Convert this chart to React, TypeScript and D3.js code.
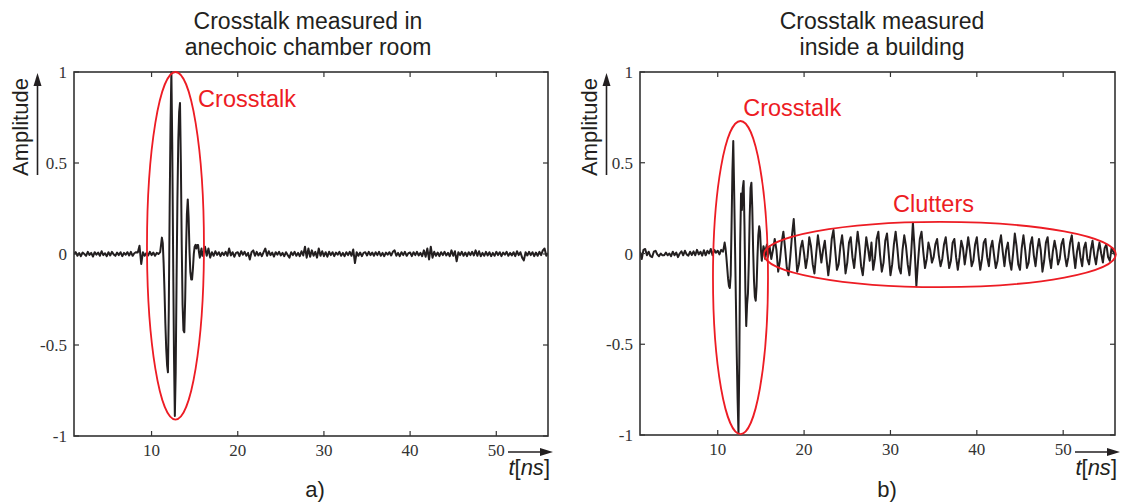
import React from 'react';
import * as d3 from 'd3';

// ---------- axis definitions ----------
const T_DOMAIN: [number, number] = [1, 56];
const A_DOMAIN: [number, number] = [-1, 1];
const xTicks = [10, 20, 30, 40, 50];
const yTicks = [-1, -0.5, 0, 0.5, 1];
const yTickLabels = ['-1', '-0.5', '0', '0.5', '1'];

// ---------- panel a) anechoic chamber ----------
// 1.0 – 10.8 ns, step 0.2
const leftPre = [
  0.0, 0.01, -0.01, 0.005, -0.012, 0.008, 0.0, -0.01, 0.012, -0.005,
  0.006, -0.014, 0.01, -0.004, 0.008, -0.01, 0.015, -0.006, 0.004, -0.012,
  0.01, -0.008, 0.012, -0.002, -0.01, 0.008, -0.006, 0.01, -0.012, 0.006,
  -0.004, 0.01, -0.008, 0.012, -0.01, 0.004, 0.01, 0.008, 0.045, -0.055,
  0.01, -0.01, 0.005, -0.008, 0.012, -0.006, 0.008, -0.01, 0.006, 0.0,
];
// 11.0 – 15.9 ns, step 0.1
const leftBurst = [
  0.01, 0.05, 0.09, 0.06, -0.05, -0.2, -0.38, -0.52, -0.61, -0.65,
  -0.3, 0.25, 0.72, 1.0, 0.6, 0.0, -0.55, -0.89, -0.65, -0.15,
  0.3, 0.62, 0.78, 0.83, 0.5, 0.05, -0.28, -0.42, -0.43, -0.25,
  0.02, 0.22, 0.3, 0.2, 0.02, -0.1, -0.14, -0.14, -0.08, 0.0,
  0.04, 0.05, 0.03, 0.05, 0.05, 0.01, -0.02, 0.01, 0.03, -0.01,
];
// 16.0 – 56.0 ns, step 0.2
const leftPost = [
  0.0, 0.04, -0.01, 0.03, -0.02, 0.01, -0.01, 0.015, -0.005, 0.01,
  -0.012, 0.008, -0.006, 0.012, -0.01, 0.03, -0.008, 0.01, -0.015, 0.006,
  0.01, -0.012, 0.015, -0.004, 0.012, -0.01, 0.006, -0.03, 0.01, 0.02,
  -0.01, 0.012, -0.008, 0.006, -0.012, 0.01, 0.03, -0.01, 0.015, -0.006,
  0.008, -0.014, 0.01, -0.004, 0.012, -0.008, 0.006, -0.012, 0.01, -0.006,
  -0.02, 0.01, -0.006, 0.012, -0.01, 0.006, -0.012, 0.015, -0.008, 0.04,
  -0.02, 0.03, -0.015, 0.02, -0.01, 0.012, -0.02, 0.03, -0.01, 0.015,
  -0.012, 0.01, -0.015, 0.012, -0.006, 0.01, -0.012, 0.008, -0.004, 0.012,
  -0.01, 0.006, -0.012, 0.01, -0.006, 0.012, -0.01, 0.025, -0.05, 0.01,
  -0.01, 0.008, -0.012, 0.006, 0.01, -0.008, 0.012, -0.006, 0.008, -0.01,
  0.01, -0.006, 0.012, -0.01, 0.006, -0.012, 0.008, -0.004, 0.01, -0.008,
  0.012, 0.02, -0.01, 0.006, -0.012, 0.01, -0.006, 0.012, -0.01, 0.004,
  0.008, -0.012, 0.01, -0.006, 0.012, -0.008, 0.006, -0.012, 0.02, -0.015,
  0.03, -0.03, 0.04, -0.02, 0.012, -0.01, 0.008, -0.012, 0.01, -0.006,
  0.012, -0.008, 0.006, -0.012, 0.02, -0.01, 0.015, -0.04, 0.01, -0.006,
  0.012, -0.01, 0.008, -0.012, 0.01, -0.006, 0.012, -0.008, 0.02, -0.01,
  0.015, -0.012, 0.006, -0.01, 0.012, -0.008, 0.01, -0.012, 0.006, -0.01,
  0.012, -0.006, 0.01, -0.012, 0.008, -0.004, 0.012, -0.01, 0.006, -0.008,
  0.01, -0.012, 0.015, -0.006, 0.01, -0.02, -0.035, 0.01, -0.008, 0.012,
  -0.006, 0.01, -0.012, 0.008, -0.01, 0.012, -0.006, 0.02, 0.03, -0.01,
  0.005,
];

// ---------- panel b) inside a building ----------
// 1.0 – 10.4 ns, step 0.2
const rightPre = [
  0.01, -0.03, 0.02, 0.025, -0.01, 0.01, -0.015, -0.02, 0.01, 0.015,
  -0.005, -0.015, 0.0, -0.01, -0.01, 0.005, -0.01, 0.0, -0.015, 0.01,
  -0.01, 0.005, -0.02, 0.0, 0.012, -0.01, 0.015, -0.005, -0.012, 0.01,
  -0.008, 0.012, -0.01, 0.02, -0.005, 0.01, -0.012, 0.018, -0.01, 0.015,
  0.0, 0.025, -0.01, 0.02, 0.005, 0.015, -0.005, 0.02,
];
// 10.6 – 15.9 ns, step 0.1
const rightBurst = [
  0.01, 0.03, 0.06, 0.03,
  -0.02, -0.08, -0.14, -0.18, -0.19, -0.12, 0.15, 0.45, 0.62, 0.35,
  0.05, -0.25, -0.55, -0.8, -0.99, -0.6, 0.05, 0.33, 0.24, 0.36,
  0.4, 0.15, -0.2, -0.4, -0.28, -0.22, -0.05, 0.2, 0.36, 0.39,
  0.25, 0.02, -0.15, -0.24, -0.26, -0.18, -0.02, 0.1, 0.15, 0.12,
  0.02, -0.04, 0.0, 0.04, 0.02, -0.03, 0.03, 0.05, -0.02, 0.01,
];
// 16.0 – 56.0 ns, step 0.2
const rightPost = [
  0.04, -0.03, 0.02, 0.08, 0.02, -0.1, -0.04, 0.06, 0.12, 0.03,
  -0.08, -0.12, -0.02, 0.1, 0.19, 0.04, -0.1, -0.06, 0.03, 0.07,
  0.0, -0.08, -0.02, 0.09, 0.04, -0.06, -0.11, 0.0, 0.1, 0.03,
  -0.05, 0.02, 0.07, -0.03, -0.12, -0.04, 0.08, 0.13, 0.02, -0.09,
  -0.06, 0.04, 0.1, 0.01, -0.11, -0.05, 0.06, 0.09, -0.02, -0.08,
  0.02, 0.12, 0.04, -0.07, -0.12, -0.02, 0.09, 0.03, -0.04, 0.06,
  -0.09, -0.03, 0.08, 0.12, -0.01, -0.1, -0.05, 0.07, 0.11, 0.0,
  -0.12, -0.06, 0.05, 0.12, 0.03, -0.08, -0.11, 0.02, 0.1, 0.04,
  -0.06, -0.12, 0.0, 0.17, 0.02, -0.18, -0.04, 0.08, 0.12, 0.01,
  -0.08, -0.03, 0.06, 0.02, -0.05, -0.02, 0.05, 0.08, -0.01, -0.07,
  -0.03, 0.05, 0.09, 0.0, -0.08, -0.04, 0.06, 0.08, -0.02, -0.09,
  -0.02, 0.07, 0.03, -0.06, 0.01, 0.09, 0.02, -0.07, -0.04, 0.05,
  0.09, -0.01, -0.09, -0.03, 0.06, 0.08, -0.02, -0.07, 0.03, 0.07,
  -0.01, -0.08, -0.04, 0.05, 0.1, 0.01, -0.07, 0.02, 0.06, -0.04,
  -0.09, 0.0, 0.11, 0.04, -0.06, -0.09, 0.03, 0.1, 0.02, -0.08,
  -0.05, 0.05, 0.09, -0.01, -0.07, 0.02, 0.08, 0.02, -0.1, -0.04,
  0.06, 0.09, -0.02, -0.08, 0.01, 0.07, 0.02, -0.06, -0.03, 0.05,
  0.08, -0.01, -0.07, -0.02, 0.06, 0.1, 0.0, -0.08, 0.01, 0.06,
  -0.02, -0.07, 0.03, 0.06, -0.03, -0.06, 0.02, 0.07, -0.01, -0.06,
  0.01, 0.06, 0.0, -0.05, 0.03, 0.05, -0.02, -0.04, 0.03, 0.01,
  -0.01,
];

// annotation ellipses in data units: [tMin, tMax, aMin, aMax]
const leftCrosstalkEllipse = [9.47, 16.08, -0.91, 1.0];
const rightCrosstalkEllipse = [9.45, 15.82, -0.995, 0.73];
const rightClutterEllipse = [15.36, 56.1, -0.185, 0.174];

type Seg = { t0: number; dt: number; v: number[] };
const toPoints = (segs: Seg[]) =>
  segs.flatMap((s) => s.v.map((v, i) => [s.t0 + i * s.dt, v] as [number, number]));

const leftData = toPoints([
  { t0: 1.0, dt: 0.2, v: leftPre },
  { t0: 11.0, dt: 0.1, v: leftBurst },
  { t0: 16.0, dt: 0.2, v: leftPost },
]);
const rightData = toPoints([
  { t0: 1.0, dt: 0.2, v: rightPre },
  { t0: 10.6, dt: 0.1, v: rightBurst },
  { t0: 16.0, dt: 0.2, v: rightPost },
]);

const INK = '#231f20';
const RED = '#ed1c24';
const SANS = 'Liberation Sans, Arial, sans-serif';
const SERIF = 'Liberation Serif, Times New Roman, serif';

type Label = { text: string; t: number; a: number };

function Panel(props: {
  id: string;
  x0: number;
  x1: number;
  y0: number;
  y1: number;
  data: [number, number][];
  title: string[];
  titleX: number;
  letter: string;
  letterX: number;
  ellipses: number[][];
  labels: Label[];
  ampX: number;
}) {
  const { id, x0, x1, y0, y1, data } = props;
  const x = d3.scaleLinear().domain(T_DOMAIN).range([x0, x1]);
  const y = d3.scaleLinear().domain(A_DOMAIN).range([y1, y0]);
  const line = d3
    .line<[number, number]>()
    .x((d) => x(d[0]))
    .y((d) => y(d[1]));
  const tl = 5;
  return (
    <g>
      <defs>
        <clipPath id={id}>
          <rect x={x0} y={y0 - 2} width={x1 - x0} height={y1 - y0 + 4} />
        </clipPath>
      </defs>
      {props.title.map((s, i) => (
        <text
          key={i}
          x={props.titleX}
          y={29 + i * 26}
          textAnchor="middle"
          style={{ fontFamily: SANS, fontSize: '23px' }}
          fill={INK}
        >
          {s}
        </text>
      ))}
      <path d={line(data) || ''} fill="none" stroke={INK} strokeWidth={2} strokeLinejoin="round" clipPath={`url(#${id})`} />
      <rect x={x0} y={y0} width={x1 - x0} height={y1 - y0} fill="none" stroke="#333" strokeWidth={1.6} />
      {xTicks.map((t) => (
        <g key={'x' + t}>
          <line x1={x(t)} x2={x(t)} y1={y1} y2={y1 - tl} stroke="#333" strokeWidth={1.2} />
          <line x1={x(t)} x2={x(t)} y1={y0} y2={y0 + tl} stroke="#333" strokeWidth={1.2} />
          <text x={x(t)} y={y1 + 20} textAnchor="middle" style={{ fontFamily: SERIF, fontSize: '17px' }} fill="#333">
            {t}
          </text>
        </g>
      ))}
      {yTicks.map((v, i) => (
        <g key={'y' + v}>
          <line x1={x0} x2={x0 + tl} y1={y(v)} y2={y(v)} stroke="#333" strokeWidth={1.2} />
          <line x1={x1} x2={x1 - tl} y1={y(v)} y2={y(v)} stroke="#333" strokeWidth={1.2} />
          <text x={x0 - 7} y={y(v) + 6} textAnchor="end" style={{ fontFamily: SERIF, fontSize: '17px' }} fill="#333">
            {yTickLabels[i]}
          </text>
        </g>
      ))}
      {props.ellipses.map((e, i) => {
        const cx = (x(e[0]) + x(e[1])) / 2;
        const cy = (y(e[2]) + y(e[3])) / 2;
        const rx = Math.abs(x(e[1]) - x(e[0])) / 2;
        const ry = Math.abs(y(e[2]) - y(e[3])) / 2;
        return <ellipse key={i} cx={cx} cy={cy} rx={rx} ry={ry} fill="none" stroke={RED} strokeWidth={1.8} />;
      })}
      {props.labels.map((l, i) => (
        <text key={i} x={x(l.t)} y={y(l.a)} style={{ fontFamily: SANS, fontSize: '23.5px' }} fill={RED}>
          {l.text}
        </text>
      ))}
      {/* y-axis label with arrow */}
      <text
        transform={`translate(${props.ampX},${127}) rotate(-90)`}
        textAnchor="middle"
        style={{ fontFamily: SANS, fontSize: '22px' }}
        fill={INK}
      >
        Amplitude
      </text>
      <line x1={props.ampX + 9.5} x2={props.ampX + 9.5} y1={175} y2={84} stroke={INK} strokeWidth={1.6} />
      <path
        d={`M${props.ampX + 9.5},${73} L${props.ampX + 5.5},${86} L${props.ampX + 13.5},${86} Z`}
        fill={INK}
      />
      {/* x-axis arrow and label */}
      <line x1={x1 - 40} x2={x1 - 4} y1={452} y2={452} stroke={INK} strokeWidth={1.6} />
      <path d={`M${x1 + 5},452 L${x1 - 8},448 L${x1 - 8},456 Z`} fill={INK} />
      <text x={x1 + 2} y={475} textAnchor="end" style={{ fontFamily: SANS, fontSize: '22px' }} fill={INK}>
        <tspan fontStyle="italic">t</tspan>
        <tspan>[</tspan>
        <tspan fontStyle="italic">ns</tspan>
        <tspan>]</tspan>
      </text>
      <text x={props.letterX} y={497} textAnchor="middle" style={{ fontFamily: SANS, fontSize: '22px' }} fill={INK}>
        {props.letter}
      </text>
    </g>
  );
}

export default function App() {
  return (
    <svg
      width={1122}
      height={502}
      viewBox="0 0 1122 502"
      style={{ position: 'absolute', left: 0, top: 0, background: '#fff' }}
    >
      <rect width={1122} height={502} fill="#fff" />
      <Panel
        id="clipA"
        x0={74}
        x1={548}
        y0={72}
        y1={436}
        data={leftData}
        title={['Crosstalk measured in', 'anechoic chamber room']}
        titleX={308}
        letter="a)"
        letterX={315}
        ellipses={[leftCrosstalkEllipse]}
        labels={[{ text: 'Crosstalk', t: 15.4, a: 0.81 }]}
        ampX={28}
      />
      <Panel
        id="clipB"
        x0={640}
        x1={1115}
        y0={72}
        y1={435}
        data={rightData}
        title={['Crosstalk measured', 'inside a building']}
        titleX={882}
        letter="b)"
        letterX={887}
        ellipses={[rightCrosstalkEllipse, rightClutterEllipse]}
        labels={[
          { text: 'Crosstalk', t: 12.95, a: 0.755 },
          { text: 'Clutters', t: 30.3, a: 0.23 },
        ]}
        ampX={597}
      />
    </svg>
  );
}
